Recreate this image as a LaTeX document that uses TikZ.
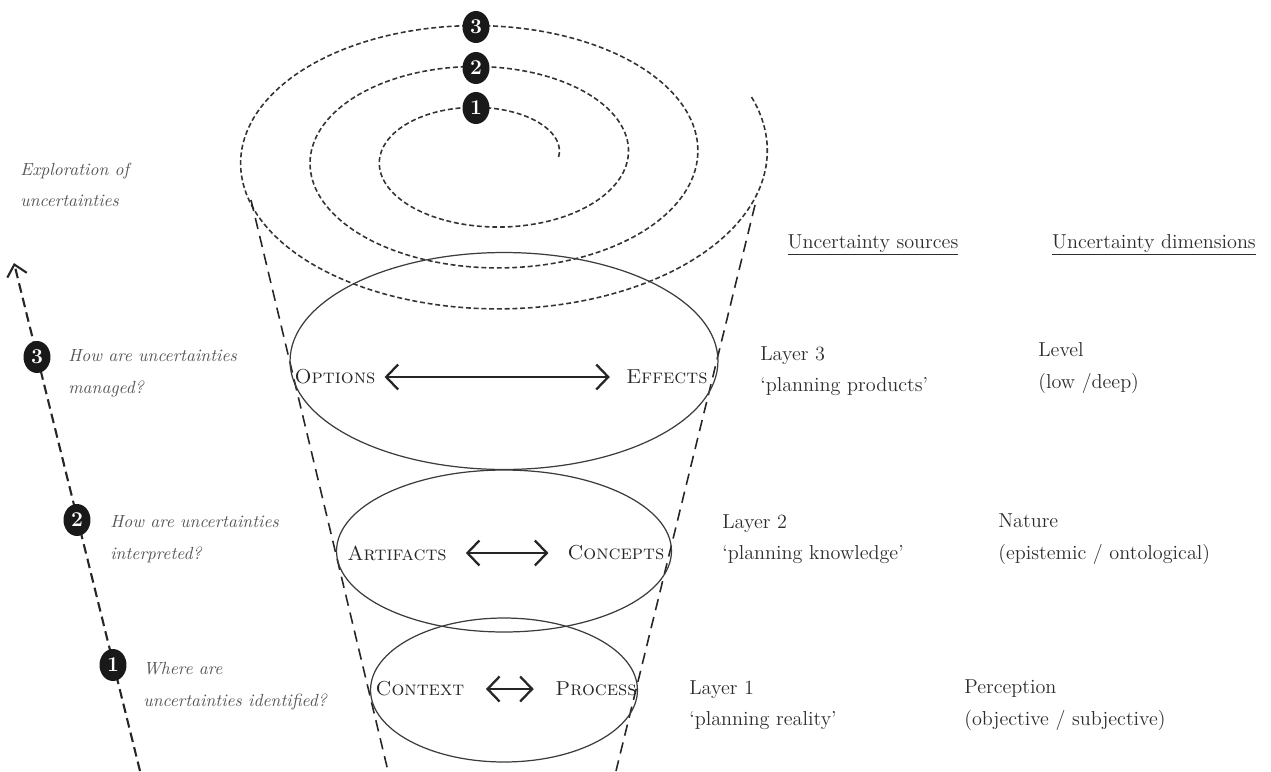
\documentclass[tikz,border=0pt]{standalone}
\usepackage{tikz}
\usetikzlibrary{shapes.geometric,arrows.meta}
\definecolor{inkgray}{RGB}{40,40,40}
\definecolor{notegray}{RGB}{45,45,45}
\definecolor{askgray}{RGB}{85,85,85}
\definecolor{linegray}{RGB}{60,60,60}

\begin{document}
\begin{tikzpicture}[
        x=0.02cm, y=-0.02cm,
        font=\fontsize{11.5}{18}\selectfont,
        layer/.style={ellipse, draw=linegray, line width=0.7pt, inner sep=0pt},
        term/.style={text=inkgray, inner sep=5pt, font=\fontsize{11.5}{13}\selectfont\scshape},
        link/.style={{Straight Barb[length=2.4mm,width=5mm]}-{Straight Barb[length=2.4mm,width=5mm]}, line width=1.3pt, color=black!85},
        note/.style={text=notegray, align=left, anchor=west, inner sep=0pt},
        header/.style={text=notegray, inner sep=0pt},
        question/.style={text=askgray, align=left, anchor=west, inner sep=0pt, font=\fontsize{10}{18}\selectfont\itshape},
        badge/.style={ellipse, fill=black!90, text=white, inner sep=0pt, minimum width=0.54cm, minimum height=0.64cm, font=\fontsize{12}{12}\selectfont\bfseries},
        spiral/.style={line width=0.9pt, dash pattern=on 2.8pt off 1.6pt, color=black!80},
        cone/.style={line width=0.9pt, dash pattern=on 6.5pt off 4pt, color=black!85},
        explore/.style={-{Straight Barb[length=2.2mm,width=4mm]}, line width=1.2pt, dash pattern=on 5.5pt off 3pt, color=black!85}
    ]
    \useasboundingbox (0,0) rectangle (1271,771);

    % Spiral of exploration on top of the cone
    \draw[spiral] plot[domain=0:1102, samples=260, smooth] ({486.6+(72+(\x/360)*69.5)*cos(\x)}, {157-(39+(\x/360)*41)*sin(\x)});
    \node[badge] (turn1) at (476,108) {1};
    \node[badge] (turn2) at (476,68) {2};
    \node[badge] (turn3) at (476,27) {3};

    % Cone
    \coordinate (coneTL) at (251,200);
    \coordinate (coneBL) at (388,771);
    \coordinate (coneTR) at (755,205);
    \coordinate (coneBR) at (616,771);
    \draw[cone] (coneTL) -- (coneBL);
    \draw[cone] (coneTR) -- (coneBR);

    % Layers
    \node[layer, minimum width=8.56cm, minimum height=4.34cm] (layer3) at (504,361) {};
    \node[layer, minimum width=6.7cm, minimum height=3.24cm] (layer2) at (504,551) {};
    \node[layer, minimum width=5.34cm, minimum height=2.88cm] (layer1) at (504,690) {};

    % Terms inside the layers
    \node[term] (options) at (335,377) {Options};
    \node[term] (effects) at (667,377) {Effects};
    \node[term] (artifacts) at (397,553) {Artifacts};
    \node[term] (concepts) at (616,553) {Concepts};
    \node[term] (context) at (420,689) {Context};
    \node[term] (process) at (596,689) {Process};
    \draw[link, shorten >=0.15cm] (options) -- (effects);
    \draw[link, shorten <=0.2cm, shorten >=0.2cm] (artifacts) -- (concepts);
    \draw[link, shorten <=0.25cm, shorten >=0.25cm] (context) -- (process);

    % Headers
    \node[header] (sources) at (873,245) {\underline{Uncertainty sources}};
    \node[header] (dimensions) at (1154,245) {\underline{Uncertainty dimensions}};

    % Sources and dimensions per layer
    \node[note] (src3) at (760,371) {Layer 3\\`planning products'};
    \node[note] (dim3) at (1038,368) {Level\\(low /deep)};
    \node[note] (src2) at (722,539) {Layer 2\\`planning knowledge'};
    \node[note] (dim2) at (998,539) {Nature\\(epistemic / ontological)};
    \node[note] (src1) at (689,705) {Layer 1\\`planning reality'};
    \node[note] (dim1) at (964,705) {Perception\\(objective / subjective)};

    % Exploration axis on the left
    \coordinate (exploreStart) at (140,771);
    \coordinate (exploreTip) at (14,263);
    \draw[explore] (exploreStart) -- (exploreTip);
    \node[question] (exploration) at (20,185) {Exploration of\\uncertainties};
    \node[badge] (step3) at (37,357) {3};
    \node[badge] (step2) at (77,520) {2};
    \node[badge] (step1) at (113,665) {1};
    \node[question] (ask3) at (68,373) {How are uncertainties\\managed?};
    \node[question] (ask2) at (110,539) {How are uncertainties\\interpreted?};
    \node[question] (ask1) at (143,686) {Where are\\uncertainties identified?};

\end{tikzpicture}
\end{document}
